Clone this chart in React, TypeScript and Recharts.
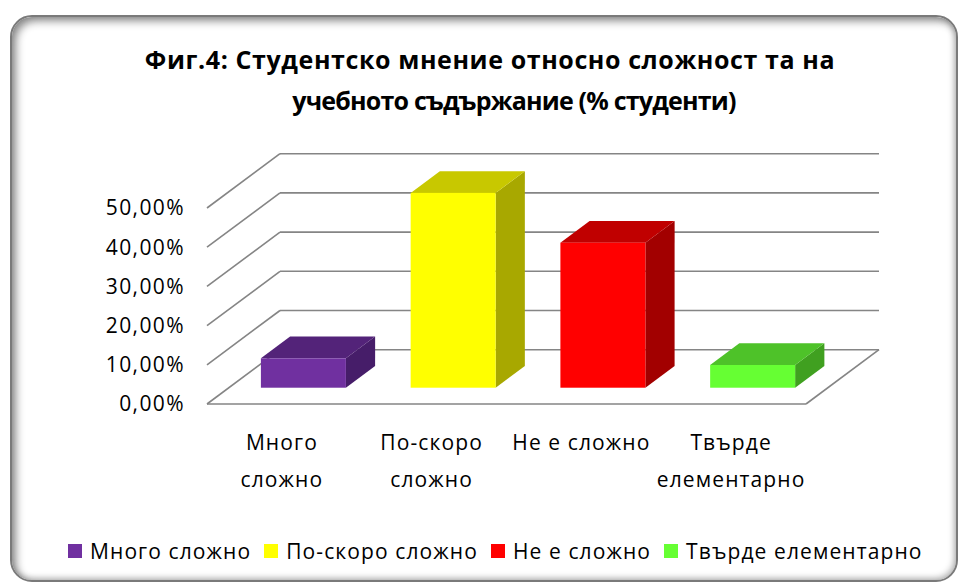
import { Bar, BarChart, CartesianGrid, XAxis, YAxis } from 'recharts'

const categories = ['Много сложно', 'По-скоро сложно', 'Не е сложно', 'Твърде елементарно']
const tickLines = [['Много', 'сложно'], ['По-скоро', 'сложно'], ['Не е сложно'], ['Твърде', 'елементарно']]
const shares = [0.075, 0.497, 0.37, 0.058]
const yTicks = [0, 0.1, 0.2, 0.3, 0.4, 0.5]
const titleLines = ['Фиг.4: Студентско мнение относно сложност та на', 'учебното съдържание (% студенти)']

// front / top / side colours for each bar
const frontColors = ['#7030a0', '#ffff00', '#ff0000', '#66ff33']
const topColors = ['#532379', '#c8c800', '#c00000', '#4ec229']
const sideColors = ['#461d69', '#a8a800', '#a20000', '#40a020']

const FONT = '"Open Sans", Lato, sans-serif'
// depth of the floor (front edge -> back wall)
const DX = 73
const DY = -54.3
// bars sit between 30% and 70% of the depth
const F0 = 0.3
const F1 = 0.7
const PLOT_BOTTOM = 404

const chartData = categories.map((name, i) => ({ name, value: shares[i] }))

function Box3D(props: any) {
  const { x, y, width, height, index } = props
  const fx = x + F0 * DX
  const fy = y + F0 * DY
  const bx = (F1 - F0) * DX
  const by = (F1 - F0) * DY
  const top = `${fx},${fy} ${fx + bx},${fy + by} ${fx + width + bx},${fy + by} ${fx + width},${fy}`
  const side = `${fx + width},${fy} ${fx + width + bx},${fy + by} ${fx + width + bx},${fy + height + by} ${fx + width},${fy + height}`
  return (
    <g>
      <polygon points={side} fill={sideColors[index]} />
      <polygon points={top} fill={topColors[index]} />
      <rect x={fx} y={fy} width={width} height={height} fill={frontColors[index]} />
    </g>
  )
}

function GridLine(props: any) {
  const { x1, x2, y1, index } = props
  const isFloor = Math.abs(y1 - PLOT_BOTTOM) < 1
  return (
    <g key={`g-${index}`} stroke="#858585" strokeWidth={1.6} fill="none">
      <line x1={x1} y1={y1} x2={x1 + DX} y2={y1 + DY} />
      <line x1={x1 + DX} y1={y1 + DY} x2={x2 + DX} y2={y1 + DY} />
      {isFloor && <line x1={x1} y1={y1} x2={x2} y2={y1} />}
      {isFloor && <line x1={x2} y1={y1} x2={x2 + DX} y2={y1 + DY} />}
    </g>
  )
}

function CategoryTick(props: any) {
  const { x, y, index } = props
  const lines = tickLines[index] ?? []
  return (
    <text x={x} y={y} textAnchor="middle" fontFamily={FONT} fontSize={21} letterSpacing={1.1} fill="#000">
      {lines.map((line, i) => (
        <tspan key={i} x={x} dy={i === 0 ? 44 : 37}>
          {line}
        </tspan>
      ))}
    </text>
  )
}

const percentLabel = (v: number) => (v * 100).toFixed(2).replace('.', ',') + '%'

const titleStyle = {
  position: 'absolute' as const,
  left: 0,
  textAlign: 'center' as const,
  fontFamily: FONT,
  fontWeight: 700,
  fontSize: 25,
  lineHeight: '41px',
  color: '#000',
  whiteSpace: 'nowrap' as const
}

export default function App() {
  return (
    <div style={{ position: 'relative', width: 959, height: 583, overflow: 'hidden', background: '#fff' }}>
      <style>{'body{margin:0;overflow:hidden}'}</style>
      <div
        style={{
          position: 'absolute',
          left: 10,
          top: 15,
          width: 944,
          height: 563,
          borderRadius: 22,
          border: '2px solid #7a7a7a',
          boxShadow: 'inset 4px 4px 8px rgba(0,0,0,0.45), inset -2px -2px 6px rgba(0,0,0,0.25)',
          background: '#fff'
        }}
      />
      <div style={{ ...titleStyle, top: 39, width: 980, letterSpacing: 0.6 }}>{titleLines[0]}</div>
      <div style={{ ...titleStyle, top: 80, width: 1028, letterSpacing: -0.8 }}>{titleLines[1]}</div>

      <div style={{ position: 'absolute', left: 0, top: 0 }}>
        <BarChart
          width={959}
          height={583}
          data={chartData}
          margin={{ top: 208, right: 153, bottom: 149, left: 87 }}
        >
          <CartesianGrid vertical={false} horizontal={(p: any) => <GridLine {...p} />} />
          <XAxis
            dataKey="name"
            height={30}
            axisLine={false}
            tickLine={false}
            tickSize={0}
            interval={0}
            tick={<CategoryTick />}
          />
          <YAxis
            width={120}
            domain={[0, 0.5]}
            ticks={yTicks}
            axisLine={false}
            tickLine={false}
            tickSize={0}
            tickMargin={22}
            tickFormatter={percentLabel}
            tick={{ fontFamily: FONT, fontSize: 21, letterSpacing: 1.4, fill: '#000' }}
          />
          <Bar dataKey="value" barSize={85} isAnimationActive={false} shape={(p: any) => <Box3D {...p} />} />
        </BarChart>
      </div>

      <div
        style={{
          position: 'absolute',
          left: 68,
          top: 537,
          display: 'flex',
          alignItems: 'center',
          fontFamily: FONT,
          fontSize: 21,
          letterSpacing: 1.1,
          color: '#000',
          whiteSpace: 'nowrap'
        }}
      >
        {categories.map((c, i) => (
          <span key={c} style={{ display: 'flex', alignItems: 'center', marginRight: 13 }}>
            <span style={{ width: 14, height: 14, background: frontColors[i], marginRight: 8 }} />
            {c}
          </span>
        ))}
      </div>
    </div>
  )
}
